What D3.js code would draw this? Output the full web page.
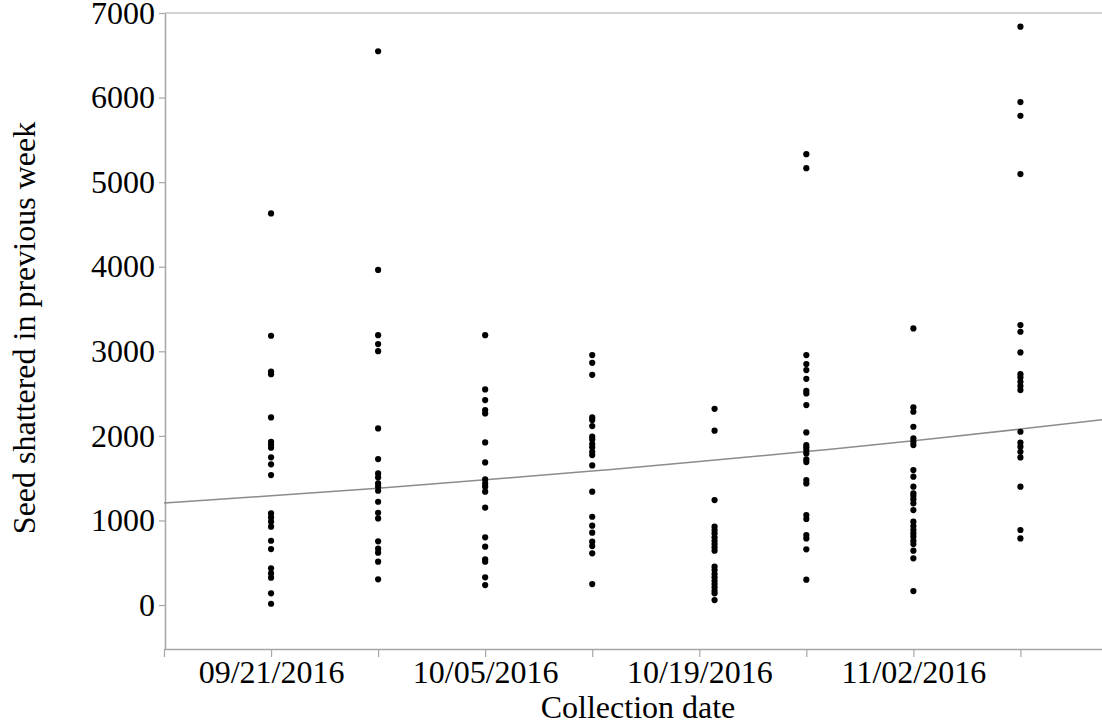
<!DOCTYPE html>
<html>
<head>
<meta charset="utf-8">
<script src="https://cdn.jsdelivr.net/npm/d3@7"></script>
<style>
  html, body { margin: 0; padding: 0; background: #fff; }
  svg { display: block; }
  text { font-family: "Liberation Serif", "Times New Roman", serif; fill: #000; }
</style>
</head>
<body>
<svg id="chart" width="1102" height="725"></svg>
<script>
// ---- data ----
const collectionDates = ["2016-09-21", "2016-09-28", "2016-10-05", "2016-10-12", "2016-10-20", "2016-10-26", "2016-11-02", "2016-11-09"];

const seed0921 = [4630, 3184, 2760, 2730, 2218, 1930, 1895, 1860, 1746, 1663, 1537, 1083, 1036, 985, 926, 760, 662, 434, 374, 323, 138, 15];
const seed0928 = [6548, 3962, 3191, 3085, 3002, 2088, 1726, 1556, 1509, 1438, 1399, 1351, 1221, 1091, 1024, 753, 666, 619, 512, 304];
const seed1005 = [3191, 2549, 2423, 2305, 2266, 1923, 1686, 1485, 1438, 1399, 1340, 1151, 800, 690, 540, 512, 327, 236];
const seed1012 = [2955, 2864, 2722, 2218, 2187, 2116, 1990, 1958, 1903, 1864, 1812, 1773, 1651, 1340, 1044, 938, 855, 749, 697, 611, 248];
const seed1020 = [2320, 2061, 1241, 926, 887, 847, 800, 760, 721, 682, 642, 453, 414, 366, 327, 287, 248, 209, 169, 138, 59];
const seed1026 = [5331, 5165, 2955, 2849, 2778, 2675, 2533, 2502, 2364, 2041, 1891, 1864, 1832, 1793, 1722, 1690, 1478, 1438, 1064, 1017, 828, 788, 658, 300];
const seed1102 = [3270, 2336, 2285, 2108, 1970, 1930, 1891, 1596, 1517, 1399, 1320, 1288, 1249, 1202, 1123, 985, 934, 887, 847, 808, 760, 721, 642, 552, 165];
const seed1109 = [6838, 5947, 5785, 5096, 3310, 3231, 2987, 2730, 2691, 2640, 2589, 2541, 2049, 1919, 1872, 1812, 1745, 1399, 887, 788];

const seriesValues = [seed0921, seed0928, seed1005, seed1012, seed1020, seed1026, seed1102, seed1109];

// fitted trend (at weekly positions)
const trendDates = ["2016-09-14", "2016-09-21", "2016-09-28", "2016-10-05", "2016-10-12", "2016-10-19", "2016-10-26", "2016-11-02", "2016-11-09", "2016-11-14T08:00"];
const trendValues = [1206, 1291, 1382, 1480, 1584, 1696, 1815, 1943, 2080, 2190];

const xTickDates = ["2016-09-14", "2016-09-21", "2016-09-28", "2016-10-05", "2016-10-12", "2016-10-19", "2016-10-26", "2016-11-02", "2016-11-09"];
const xLabelledDates = ["2016-09-21", "2016-10-05", "2016-10-19", "2016-11-02"];
const yTicks = [0, 1000, 2000, 3000, 4000, 5000, 6000, 7000];

const xDomain = ["2016-09-14", "2016-11-14T08:00"];
const yDomain = [-520, 7000];

const xTitle = "Collection date";
const yTitle = "Seed shattered in previous week";

// ---- layout ----
const parse = s => new Date(s.length > 10 ? s + "Z" : s + "T00:00:00Z");
const plotLeft = 164, plotRight = 1102, plotTop = 13, plotBottom = 649;
const axisColor = "#a6a6a6";
const fontSize = 32;

const svg = d3.select("#chart");

const x = d3.scaleUtc().domain(xDomain.map(parse)).range([plotLeft, plotRight]);
const y = d3.scaleLinear().domain(yDomain).range([plotBottom, plotTop]);

// top border
svg.append("line")
  .attr("x1", plotLeft + 1).attr("x2", plotRight)
  .attr("y1", y(7000)).attr("y2", y(7000))
  .attr("stroke", axisColor).attr("stroke-width", 1.2);

// y axis
const yAxis = svg.append("g")
  .attr("transform", `translate(${plotLeft + 1},0)`)
  .call(d3.axisLeft(y).tickValues(yTicks).tickSize(6).tickSizeOuter(0).tickPadding(4).tickFormat(d3.format("d")));
yAxis.select(".domain").attr("stroke", axisColor).attr("stroke-width", 1.5);
yAxis.selectAll(".tick line").attr("stroke", axisColor).attr("stroke-width", 1.2);
yAxis.selectAll(".tick text")
  .attr("font-size", fontSize)
  .attr("font-family", "Liberation Serif")
  .attr("fill", "#000");

// x axis
const labelled = new Set(xLabelledDates);
const fmt = d3.utcFormat("%m/%d/%Y");
const xAxis = svg.append("g")
  .attr("transform", `translate(0,${plotBottom})`)
  .call(d3.axisBottom(x)
    .tickValues(xTickDates.map(parse))
    .tickSize(8).tickSizeOuter(0).tickPadding(3)
    .tickFormat(d => labelled.has(d3.utcFormat("%Y-%m-%d")(d)) ? fmt(d) : ""));
xAxis.select(".domain").attr("stroke", axisColor).attr("stroke-width", 1.5);
xAxis.selectAll(".tick line").attr("stroke", axisColor).attr("stroke-width", 1.2);
xAxis.selectAll(".tick text")
  .attr("font-size", fontSize)
  .attr("font-family", "Liberation Serif")
  .attr("fill", "#000");

// trend line
const trend = trendDates.map((d, i) => ({ date: parse(d), value: trendValues[i] }));
svg.append("path")
  .datum(trend)
  .attr("fill", "none")
  .attr("stroke", "#8c8c8c")
  .attr("stroke-width", 1.5)
  .attr("d", d3.line().x(d => x(d.date)).y(d => y(d.value)).curve(d3.curveNatural));

// points
const points = [];
collectionDates.forEach((d, i) => {
  seriesValues[i].forEach(v => points.push({ date: parse(d), value: v }));
});
svg.append("g").selectAll("circle")
  .data(points)
  .join("circle")
  .attr("cx", d => x(d.date))
  .attr("cy", d => y(d.value))
  .attr("r", 3.1)
  .attr("fill", "#000");

// axis titles
svg.append("text")
  .attr("transform", `translate(${(plotLeft + plotRight) / 2 + 5},718)`)
  .attr("text-anchor", "middle")
  .attr("font-size", fontSize)
  .text(xTitle);

svg.append("text")
  .attr("transform", `translate(35,${(y(-520) + y(7000)) / 2 - 3}) rotate(-90)`)
  .attr("text-anchor", "middle")
  .attr("font-size", fontSize)
  .text(yTitle);
</script>
</body>
</html>
